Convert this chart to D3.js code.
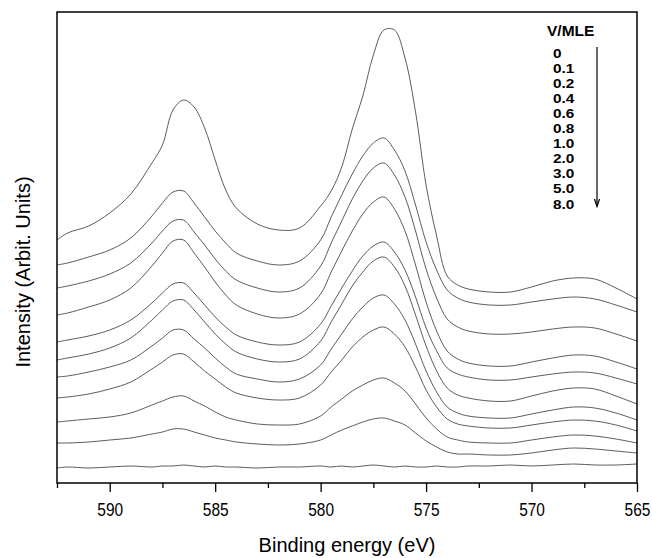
<!DOCTYPE html>
<html>
<head>
<meta charset="utf-8">
<script src="https://cdn.jsdelivr.net/npm/d3@7"></script>
<style>
  body { margin: 0; background: #fff; }
  svg { display: block; font-family: Arial, "Liberation Sans", sans-serif; }
</style>
</head>
<body>
<svg id="chart" width="652" height="558"></svg>
<script>
// binding energy grid (eV)
const energies = [592.5, 592, 591, 590, 589, 588, 587.5, 587, 586.5, 586, 585.5, 585, 584.5, 584, 583, 582,
                  581, 580, 579.5, 579, 578.5, 578, 577.5, 577, 576.5, 576, 575.5, 575, 574.5, 574, 573.5, 573,
                  572, 571, 570, 569, 568, 567, 566, 565];

// V coverage (MLE) for each spectrum, top to bottom
const doses = ["0", "0.1", "0.2", "0.4", "0.6", "0.8", "1.0", "2.0", "3.0", "5.0", "8.0"];

// intensities (arbitrary units, offset stacked as in the figure)
const int0   = [243, 250, 257, 270, 289, 320, 338, 373, 383, 376, 355, 323, 293, 275, 259, 253, 255, 277, 292, 316, 354, 387, 428, 453, 453, 425, 371, 298, 247, 207, 198, 194, 191, 191, 196, 202, 205, 204, 195, 184];
const int0_1 = [218, 220, 226, 233, 245, 267, 280, 291, 292, 280, 266, 252, 240, 230, 222, 218, 222, 243, 266, 288, 309, 327, 340, 345, 333, 312, 278, 241, 213, 193, 185, 181, 178, 178, 181, 184, 186, 184, 178, 171];
const int0_2 = [195, 197, 202, 209, 220, 240, 252, 262, 263, 251, 238, 224, 212, 203, 195, 191, 195, 217, 240, 262, 284, 302, 315, 320, 308, 286, 252, 214, 185, 164, 156, 152, 149, 149, 151, 154, 156, 155, 149, 142];
const int0_4 = [168, 170, 176, 183, 195, 217, 230, 242, 243, 230, 216, 201, 188, 178, 169, 165, 169, 189, 211, 232, 252, 269, 281, 286, 274, 252, 218, 181, 152, 132, 124, 120, 117, 117, 121, 125, 128, 127, 121, 114];
const int0_6 = [141, 143, 147, 153, 163, 180, 190, 199, 200, 190, 178, 166, 156, 148, 141, 138, 141, 159, 177, 195, 212, 227, 237, 241, 231, 213, 186, 155, 132, 115, 109, 106, 103, 103, 106, 109, 111, 110, 105, 99];
const int0_8 = [123, 125, 129, 135, 145, 163, 173, 182, 183, 173, 161, 149, 139, 131, 124, 121, 124, 142, 161, 179, 197, 211, 222, 226, 216, 197, 168, 137, 112, 95, 88, 85, 82, 82, 87, 92, 95, 94, 87, 79];
const int1_0 = [106, 107, 111, 116, 123, 137, 145, 153, 153, 144, 135, 125, 116, 109, 104, 101, 104, 118, 134, 149, 164, 176, 185, 188, 179, 163, 139, 112, 91, 76, 70, 67, 65, 65, 69, 73, 76, 75, 70, 63];
const int2_0 = [85, 86, 89, 94, 101, 114, 121, 128, 129, 121, 112, 104, 96, 90, 85, 83, 85, 98, 111, 123, 136, 146, 153, 156, 149, 136, 116, 93, 76, 64, 59, 57, 55, 55, 58, 61, 63, 62, 58, 52];
const int3_0 = [61, 62, 64, 66, 70, 78, 82, 86, 87, 82, 77, 71, 66, 63, 59, 58, 59, 67, 76, 84, 92, 98, 103, 105, 100, 92, 79, 65, 54, 46, 43, 41, 40, 40, 43, 46, 48, 47, 44, 40];
const int5_0 = [40, 40, 41, 43, 45, 49, 51, 54, 54, 51, 48, 45, 43, 41, 39, 38, 39, 43, 48, 53, 57, 61, 64, 65, 62, 58, 50, 42, 36, 31, 29, 29, 28, 28, 30, 33, 35, 34, 32, 30];
const int8_0 = [15, 16, 15, 16, 17, 16, 17, 17, 18, 17, 16, 17, 16, 16, 15, 16, 16, 17, 16, 17, 16, 17, 18, 17, 16, 17, 16, 16, 17, 16, 16, 17, 17, 18, 17, 18, 19, 18, 18, 19];

const spectra = [int0, int0_1, int0_2, int0_4, int0_6, int0_8, int1_0, int2_0, int3_0, int5_0, int8_0];

const majorTicks = [590, 585, 580, 575, 570, 565];
const minorTicks = [592.5, 587.5, 582.5, 577.5, 572.5, 567.5];

const margin = {left: 57, top: 12, right: 637, bottom: 483};
const svg = d3.select("#chart");

// scales (binding energy runs right to left)
const x = d3.scaleLinear().domain([592.5, 565]).range([margin.left, margin.right]);
const y = d3.scaleLinear().domain([0, 471]).range([margin.bottom, margin.top]);

const line = d3.line()
    .x(d => x(d[0]))
    .y(d => y(d[1]))
    .curve(d3.curveCatmullRom.alpha(0.5));

// spectra
svg.append("g")
    .selectAll("path")
    .data(spectra)
    .enter()
    .append("path")
    .attr("d", s => line(energies.map((e, i) => [e, s[i]])))
    .attr("fill", "none")
    .attr("stroke", "#4a4a4a")
    .attr("stroke-width", 0.9);

// frame
svg.append("rect")
    .attr("x", margin.left)
    .attr("y", margin.top)
    .attr("width", margin.right - margin.left)
    .attr("height", margin.bottom - margin.top)
    .attr("fill", "none")
    .attr("stroke", "#000")
    .attr("stroke-width", 1.5);

// x axis: major ticks with labels, minor ticks without
const xAxis = d3.axisBottom(x).tickValues(majorTicks).tickSize(9).tickPadding(11).tickFormat(d3.format("d"));
const gx = svg.append("g")
    .attr("transform", "translate(0," + margin.bottom + ")")
    .call(xAxis);
gx.select(".domain").remove();
gx.selectAll("line").attr("stroke", "#000").attr("stroke-width", 1.3);
gx.selectAll("text")
    .attr("font-size", 18)
    .attr("font-family", "Arial, 'Liberation Sans', sans-serif")
    .attr("fill", "#000")
    .attr("transform", "scale(0.86,1)");

const gm = svg.append("g")
    .attr("transform", "translate(0," + margin.bottom + ")")
    .call(d3.axisBottom(x).tickValues(minorTicks).tickSize(5).tickFormat(""));
gm.select(".domain").remove();
gm.selectAll("line").attr("stroke", "#000").attr("stroke-width", 1.3);

// axis titles
svg.append("text")
    .attr("x", (margin.left + margin.right) / 2)
    .attr("y", 552)
    .attr("text-anchor", "middle")
    .attr("font-size", 20)
    .text("Binding energy (eV)");

svg.append("text")
    .attr("transform", "translate(30,272) rotate(-90)")
    .attr("text-anchor", "middle")
    .attr("font-size", 20)
    .text("Intensity (Arbit. Units)");

// legend: coverage list with arrow
const legend = svg.append("g");
legend.append("text")
    .attr("x", 547)
    .attr("y", 36)
    .attr("font-size", 15.5)
    .attr("font-weight", "bold")
    .text("V/MLE");

// rows are tightly packed, so a smaller font stretched sideways keeps the boxes apart
legend.selectAll("text.dose")
    .data(doses)
    .enter()
    .append("text")
    .attr("class", "dose")
    .attr("transform", (d, i) => "translate(553," + (57.5 + i * 15.1) + ") scale(1.18,1)")
    .attr("font-size", 13)
    .attr("font-weight", "bold")
    .text(d => d);

legend.append("line")
    .attr("x1", 597).attr("x2", 597)
    .attr("y1", 47).attr("y2", 206)
    .attr("stroke", "#000")
    .attr("stroke-width", 1.2);
legend.append("path")
    .attr("d", "M594.5,199 L597,206.5 L599.5,199")
    .attr("fill", "none")
    .attr("stroke", "#000")
    .attr("stroke-width", 1.2);
</script>
</body>
</html>
